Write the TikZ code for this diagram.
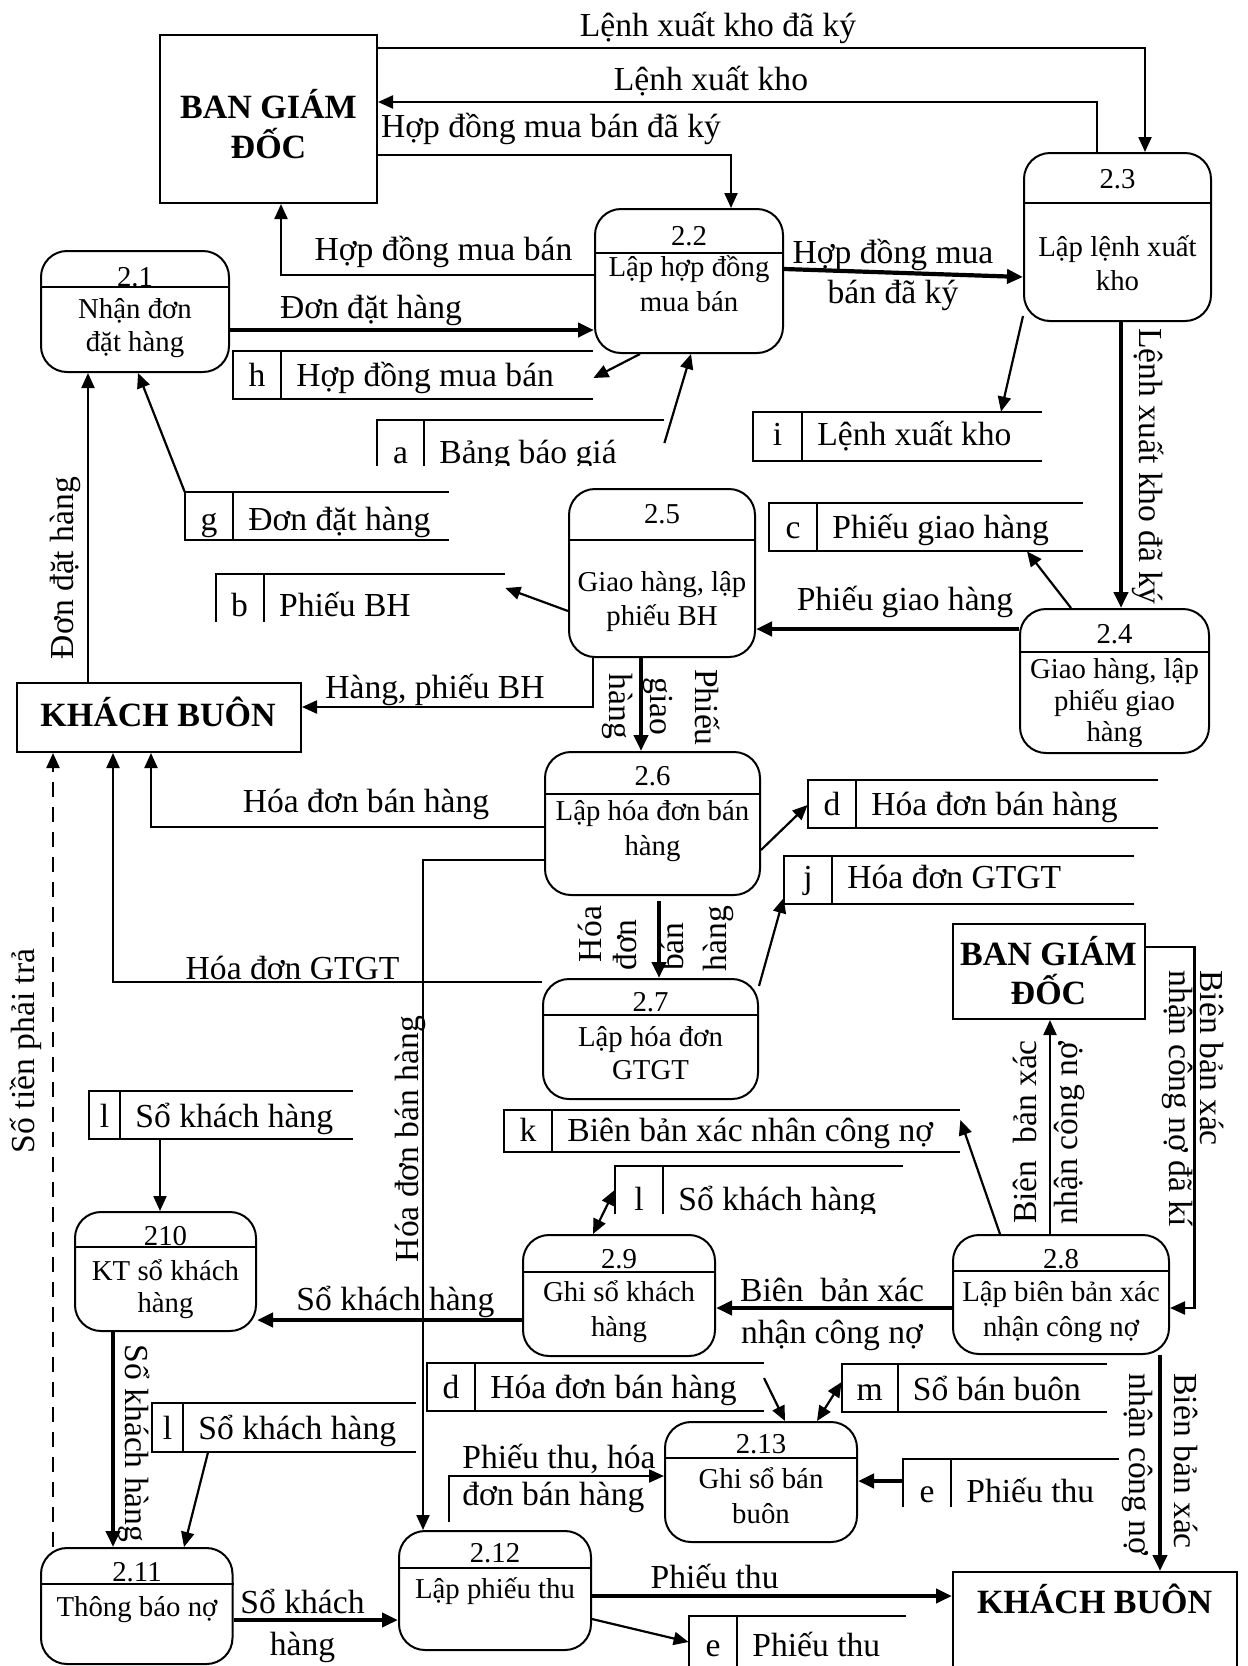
\documentclass[tikz,border=0pt]{standalone}
\usepackage{fontspec}
\setmainfont{Liberation Serif}
\usetikzlibrary{arrows.meta,fit}

\newcommand\labfont{\fontsize{16.8pt}{20pt}\selectfont}
\newcommand\procfont{\fontsize{14.4pt}{17pt}\selectfont}
\newcommand\entfont{\fontsize{17pt}{20pt}\selectfont\bfseries}

\tikzset{
  procbox/.style={draw, line width=1pt, rounded corners=13pt, inner sep=0pt},
  entbox/.style={draw, line width=1pt, inner sep=0pt},
  storeline/.style={line width=1pt},
  conn/.style={line width=1.1pt, -{Triangle[length=7.5pt,width=6.5pt]}},
  tconn/.style={line width=2.1pt, -{Triangle[length=8pt,width=7pt]}},
  bconn/.style={line width=1.1pt, {Triangle[length=7.5pt,width=6.5pt]}-{Triangle[length=7.5pt,width=6.5pt]}},
  dconn/.style={conn, dash pattern=on 7.5pt off 5pt},
  lab/.style={font=\labfont, inner sep=0pt, anchor=base},
  ptext/.style={font=\procfont, inner sep=0pt, anchor=base},
  etext/.style={font=\entfont, inner sep=0pt, anchor=base},
}

% process: name, x1, y1, x2, y2, y of the divider
\newcommand\mkproc[6]{%
  \node[procbox, fit={(#2,#3)(#4,#5)}] (#1) {};
  \draw[line width=1pt] (#1.west |- 0,#6) -- (#1.east |- 0,#6);
}
% data store: name, x1, y1, x of divider, right end, y2, letter, title, baseline
\newcommand\mkstore[9]{%
  \node[inner sep=0pt, fit={(#2,#3)(#5,#6)}] (#1) {};
  \draw[storeline] (#5,#3) -- (#2,#3) -- (#2,#6) -- (#5,#6);
  \draw[storeline] (#4,#3) -- (#4,#6);
  \node[lab] (#1-k) at ({(#2+#4)/2},#9) {#7};
  \node[lab, anchor=base west] (#1-t) at ({#4+15},#9) {#8};
}
% data store whose lower part is hidden: same arguments, y2 is the cut line
\newcommand\mkcutstore[9]{%
  \node[inner sep=0pt, fit={(#2,#3)(#5,#6)}] (#1) {};
  \begin{scope}
    \clip ({#2-5},{#3-5}) rectangle ({#5+5},#6);
    \draw[storeline] (#5,#3) -- (#2,#3) -- (#2,{#6+5});
    \draw[storeline] (#4,#3) -- (#4,{#6+5});
    \node[lab] (#1-k) at ({(#2+#4)/2},#9) {#7};
    \node[lab, anchor=base west] (#1-t) at ({#4+15},#9) {#8};
  \end{scope}
}

\begin{document}
\begin{tikzpicture}[x=0.5pt, y=-0.5pt]
\useasboundingbox (0,0) rectangle (1248,1666);
\clip (0,0) rectangle (1248,1666);
\fill[white] (0,0) rectangle (1248,1666);

% ---------- external entities ----------
\node[entbox, fit={(160,35)(377,203)}] (bgdA) {};
\node[etext] (bgdA1) at (268.5,118.3) {BAN GIÁM};
\node[etext] (bgdA2) at (268.5,158.3) {ĐỐC};
\node[entbox, fit={(17,683)(301,752)}] (kbA) {};
\node[etext] (kbA1) at (158,726.7) {KHÁCH BUÔN};
\node[entbox, fit={(953,924)(1145,1019)}] (bgdB) {};
\node[etext] (bgdB1) at (1048.5,965.5) {BAN GIÁM};
\node[etext] (bgdB2) at (1048.5,1004.8) {ĐỐC};
\node[entbox, fit={(953,1572)(1237,1700)}] (kbB) {};
\node[etext] (kbB1) at (1094.6,1613.6) {KHÁCH BUÔN};

% ---------- processes ----------
\mkproc{p21}{41}{251}{229}{372}{287}
\node[ptext] (n21) at (135,286.7) {2.1};
\node[ptext] (t21a) at (135,318.3) {Nhận đơn};
\node[ptext] (t21b) at (135,351.7) {đặt hàng};

\mkproc{p22}{595}{209}{783}{353}{253}
\node[ptext] (n22) at (689,245) {2.2};
\node[ptext] (t22a) at (689,276.7) {Lập hợp đồng};
\node[ptext] (t22b) at (689,311.7) {mua bán};

\mkproc{p23}{1024}{153}{1211}{321}{203}
\node[ptext] (n23) at (1117.5,188.3) {2.3};
\node[ptext] (t23a) at (1117.5,256.7) {Lập lệnh xuất};
\node[ptext] (t23b) at (1117.5,290) {kho};

\mkproc{p24}{1020}{609}{1209}{753}{652}
\node[ptext] (n24) at (1114.5,643.3) {2.4};
\node[ptext] (t24a) at (1114.5,678.3) {Giao hàng, lập};
\node[ptext] (t24b) at (1114.5,710) {phiếu giao};
\begin{scope}
  \clip (1020,720) rectangle (1209,746);
  \node[ptext] (t24c) at (1114.5,741.7) {hàng};
\end{scope}

\mkproc{p25}{569}{489}{755}{657}{540}
\node[ptext] (n25) at (662,523.3) {2.5};
\node[ptext] (t25a) at (662,591.7) {Giao hàng, lập};
\node[ptext] (t25b) at (662,625) {phiếu BH};

\mkproc{p26}{545}{752}{760}{895}{794}
\node[ptext] (n26) at (652.5,785) {2.6};
\node[ptext] (t26a) at (652.5,820) {Lập hóa đơn bán};
\node[ptext] (t26b) at (652.5,855) {hàng};

\mkproc{p27}{543}{979}{758}{1099}{1015}
\node[ptext] (n27) at (650.5,1011.8) {2.7};
\node[ptext] (t27a) at (650.5,1046.5) {Lập hóa đơn};
\node[ptext] (t27b) at (650.5,1079) {GTGT};

\mkproc{p28}{953}{1235}{1169}{1354}{1271}
\node[ptext] (n28) at (1061,1268.3) {2.8};
\node[ptext] (t28a) at (1061,1301.7) {Lập biên bản xác};
\node[ptext] (t28b) at (1061,1336.7) {nhận công nợ};

\mkproc{p29}{523}{1235}{715}{1356}{1272}
\node[ptext] (n29) at (619,1268.3) {2.9};
\node[ptext] (t29a) at (619,1301.7) {Ghi sổ khách};
\node[ptext] (t29b) at (619,1336.7) {hàng};

\mkproc{p210}{75}{1212}{256}{1331}{1247}
\node[ptext] (n210) at (165.5,1245.6) {210};
\node[ptext] (t210a) at (165.5,1280.3) {KT sổ khách};
\node[ptext] (t210b) at (165.5,1312.7) {hàng};

\mkproc{p211}{41}{1548}{232.5}{1664}{1583.5}
\node[ptext] (n211) at (137,1581) {2.11};
\node[ptext] (t211a) at (137,1616) {Thông báo nợ};

\mkproc{p212}{399}{1531}{591}{1650}{1568}
\node[ptext] (n212) at (495,1562.7) {2.12};
\node[ptext] (t212a) at (495,1598.3) {Lập phiếu thu};

\mkproc{p213}{665}{1422}{857}{1542}{1458}
\node[ptext] (n213) at (761,1453.3) {2.13};
\node[ptext] (t213a) at (761,1488.3) {Ghi sổ bán};
\node[ptext] (t213b) at (761,1523.3) {buôn};

% ---------- data stores ----------
\mkstore{sh}{233}{351}{281}{593}{399}{h}{Hợp đồng mua bán}{386.7}
\mkcutstore{sa}{377}{420}{424}{664}{465}{a}{Bảng báo giá}{463}
\mkstore{sg}{185}{492}{233}{449}{540}{g}{Đơn đặt hàng}{530}
\mkcutstore{sb}{215.5}{574}{263.7}{505}{621.7}{b}{Phiếu BH}{616.7}
\mkstore{si}{753}{412}{802}{1042}{461}{i}{Lệnh xuất kho}{445}
\mkstore{sc}{769}{503}{817}{1082.5}{551}{c}{Phiếu giao hàng}{538.3}
\mkstore{sd1}{808}{780}{856}{1158}{828}{d}{Hóa đơn bán hàng}{815}
\mkstore{sj}{784}{856}{832}{1134}{904}{j}{Hóa đơn GTGT}{888.3}
\mkstore{sk}{504}{1110}{552}{960}{1152}{k}{Biên bản xác nhân công nợ}{1141.7}
\mkcutstore{sl1}{615}{1166}{663}{903}{1213}{l}{Sổ khách hàng}{1210}
\mkstore{sl2}{89}{1091}{120}{353}{1139}{l}{Sổ khách hàng}{1127.5}
\mkstore{sl3}{152}{1403}{183}{416}{1452}{l}{Sổ khách hàng}{1439}
\mkstore{sd2}{427}{1363}{475}{763.6}{1411}{d}{Hóa đơn bán hàng}{1398.3}
\mkstore{sm}{842}{1364}{897.5}{1106.6}{1412}{m}{Sổ bán buôn}{1400}
\mkcutstore{se1}{903}{1458.5}{951}{1118.6}{1506}{e}{Phiếu thu}{1502.5}
\mkcutstore{se2}{689}{1616}{737}{905.5}{1680}{e}{Phiếu thu}{1656}

% ---------- flows ----------
\draw[conn] (bgdA.east |- 0,48) -| (p23.north -| 1145,0);
\draw[conn] (p23.north -| 1097,0) |- (bgdA.east |- 0,102);
\draw[conn] (bgdA.east |- 0,155) -| (p22.north -| 731,0);
\draw[conn] (p22.west |- 0,275) -| (bgdA.south -| 281,0);
\draw[tconn] (p21.east |- 0,330) -- (p22.west |- 0,330);
\draw[tconn] (p22.east |- 0,269) -- (p23.west |- 0,277);
\draw[conn] (p22.south -| 640,0) -- (sh.east |- 0,378);
\draw[conn] (sa.north east |- 0,443) -- (p22.south -| 691,0);
\draw[conn] (kbA.north -| 88,0) -- (p21.south -| 88,0);
\draw[conn] (sg.north west) -- (p21.south -| 138,0);
\draw[conn] (p23.west |- 0,316) -- (si.north -| 1001,0);
\draw[tconn] (p23.south -| 1121,0) -- (p24.north -| 1121,0);
\draw[conn] (p24.north -| 1071,0) -- (sc.south -| 1027,0);
\draw[tconn] (p24.west |- 0,629) -- (p25.east |- 0,629);
\draw[conn] (p25.west |- 0,611) -- (sb.east |- 0,588);
\draw[conn] (p25.south -| 593,0) |- (kbA.east |- 0,707);
\draw[tconn] (p25.south -| 641,0) -- (p26.north -| 641,0);
\draw[conn] (p26.west |- 0,827) -| (kbA.south -| 151,0);
\draw[conn] (p26.west |- 0,860) -| (p212.north -| 423,0);
\draw[conn] (p26.east |- 0,850) -- (sd1.west |- 0,805);
\draw[tconn, shorten <=2.5pt] (p26.south -| 659,0) -- (p27.north -| 659,0);
\draw[conn] (p27.west |- 0,982) -| (kbA.south -| 113,0);
\draw[conn] (p27.east |- 0,986) -- (sj.west |- 0,898);
\draw[dconn] (p211.north -| 53,0) -- (kbA.south -| 53,0);
\draw[conn] (p28.north -| 1000,0) -- (sk.east |- 0,1120);
\draw[conn] (p28.north -| 1050,0) -- (bgdB.south -| 1050,0);
\draw[conn] (bgdB.east |- 0,947) -- ++(48.5,0) |- (p28.east |- 0,1308);
\draw[tconn] (p28.west |- 0,1308) -- (p29.east |- 0,1308);
\draw[tconn] (p28.south -| 1160,0) -- (kbB.north -| 1160,0);
\draw[bconn] (p29.north -| 593,0) -- (sl1.west |- 0,1190);
\draw[tconn] (p29.west |- 0,1320) -- (p210.east |- 0,1320);
\draw[conn] (sl2.south -| 160,0) -- (p210.north -| 160,0);
\draw[tconn] (p210.south -| 113,0) -- (p211.north -| 113,0);
\draw[conn] (sl3.south -| 208,0) -- (p211.north -| 184,0);
\draw[tconn] (p211.east |- 0,1620) -- (p212.west |- 0,1620);
\draw[conn, shorten <=4pt] (p212.north -| 449,0) |- (p213.west |- 0,1476);
\draw[tconn] (p212.east |- 0,1596) -- (kbB.west |- 0,1596);
\draw[conn] (p212.east |- 0,1619) -- (se2.west |- 0,1642);
\draw[conn] (sd2.east |- 0,1378) -- (p213.north -| 785,0);
\draw[bconn] (p213.north -| 817,0) -- (sm.west |- 0,1382);
\draw[tconn] (se1.west |- 0,1481) -- (p213.east |- 0,1481);

% ---------- flow labels ----------
\node[lab] (lA) at (718,36) {Lệnh xuất kho đã ký};
\node[lab] (lB) at (711,90) {Lệnh xuất kho};
\node[lab] (lC) at (551,137) {Hợp đồng mua bán đã ký};
\node[lab] (lD) at (443.5,260) {Hợp đồng mua bán};
\node[lab] (lE) at (371,318) {Đơn đặt hàng};
\node[lab] (lF1) at (893,263) {Hợp đồng mua};
\node[lab] (lF2) at (893,303) {bán đã ký};
\node[lab, rotate=90] (lI) at (73.6,568) {Đơn đặt hàng};
\node[lab, rotate=-90] (lJ) at (1139.6,466.5) {Lệnh xuất kho đã ký};
\node[lab] (lK) at (905,610) {Phiếu giao hàng};
\node[lab] (lM) at (435,698) {Hàng, phiếu BH};
\node[lab, rotate=-90] (lN1) at (695,707.5) {Phiếu};
\node[lab, rotate=-90] (lN2) at (650,706.5) {giao};
\node[lab, rotate=-90] (lN3) at (609,706.5) {hàng};
\node[lab] (lO) at (366,812) {Hóa đơn bán hàng};
\node[lab, rotate=90] (lP) at (418,1139) {Hóa đơn bán hàng};
\node[lab, rotate=90] (lQ1) at (601.7,934) {Hóa};
\node[lab, rotate=90] (lQ2) at (636.7,945) {đơn};
\node[lab, rotate=90] (lQ3) at (683.3,946.7) {bán};
\node[lab, rotate=90] (lQ4) at (726,938.5) {hàng};
\node[lab] (lR) at (292.6,979) {Hóa đơn GTGT};
\node[lab, rotate=90] (lT) at (34.5,1051) {Số tiền phải trả};
\node[lab] (lV) at (395.4,1310) {Sổ khách hàng};
\node[lab] (lW1) at (832,1301) {Biên~ bản xác};
\node[lab] (lW2) at (832,1343) {nhận công nợ};
\node[lab, rotate=90] (lX1) at (1036.5,1132) {Biên~ bản xác};
\node[lab, rotate=90] (lX2) at (1077.6,1133) {nhận công nợ};
\node[lab, rotate=-90, anchor=base west] (lY1) at (1200.7,970) {Biên bản xác};
\node[lab, rotate=-90, anchor=base west] (lY2) at (1169.7,970) {nhận công nợ đã kí};
\node[lab, rotate=-90, anchor=base west] (lZ1) at (1174.7,1373) {Biên bản xác};
\node[lab, rotate=-90, anchor=base west] (lZ2) at (1129.6,1373) {nhận công nợ};
\node[lab] (lAA1) at (302.5,1613.6) {Sổ khách};
\node[lab] (lAA2) at (302.5,1655) {hàng};
\node[lab, rotate=-90] (lBB) at (125.6,1443.5) {Sổ khách hàng};
\node[lab, anchor=base west] (lDD1) at (462,1468) {Phiếu thu, hóa};
\node[lab, anchor=base west] (lDD2) at (462,1505) {đơn bán hàng};
\node[lab] (lEE) at (714.6,1588) {Phiếu thu};
\end{tikzpicture}
\end{document}
